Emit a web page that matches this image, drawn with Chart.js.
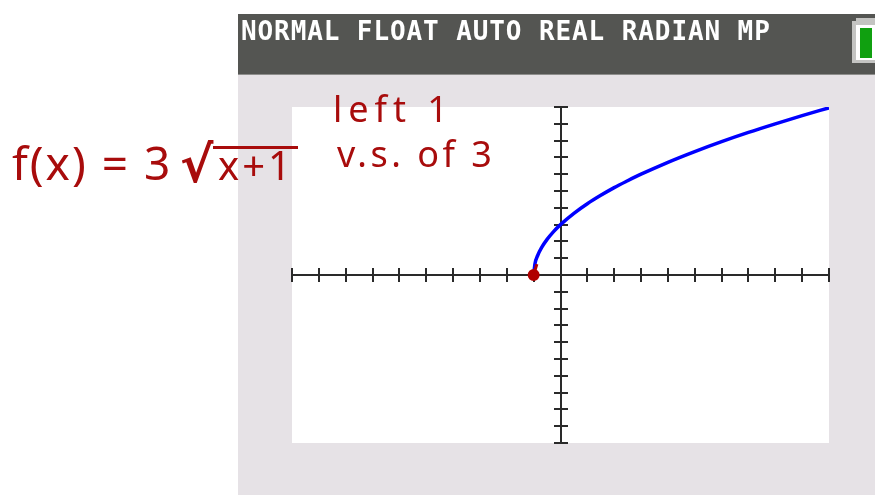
<!DOCTYPE html>
<html>
<head>
<meta charset="utf-8">
<script src="https://cdn.jsdelivr.net/npm/chart.js@4"></script>
<style>
  html, body { margin: 0; padding: 0; background: #fff; }
  #wrap { position: relative; width: 875px; height: 495px; overflow: hidden; }
  #graph { position: absolute; left: 0; top: 0; }
  .status { position: absolute; left: 241px; top: 16px; color: #fff;
            font: bold 26px "DejaVu Sans Mono", monospace; letter-spacing: 0.9px; white-space: pre; }
  .ink { position: absolute; color: #a80c0c; font-family: "Noto Sans", sans-serif; white-space: pre; }
  .root { border-top: 3px solid #a80c0c; line-height: 0.8; padding-left: 5px; padding-right: 4px; }
</style>
</head>
<body>
<div id="wrap">
  <canvas id="graph" width="875" height="495"></canvas>
  <div class="status">NORMAL FLOAT AUTO REAL RADIAN MP</div>
  <div class="ink" style="left:12px; top:131px; font-size:46px; letter-spacing:2px;">f(x) = 3</div>
  <div class="ink" style="left:180px; top:140px; font-size:50px; line-height:1; font-family:'DejaVu Sans'; font-weight:bold;">√</div>
  <div class="ink root" style="left:213px; top:146px; font-size:40px; letter-spacing:3px;">x+1</div>
  <div class="ink" style="left:333px; top:84px; font-size:36px; letter-spacing:6px;">left 1</div>
  <div class="ink" style="left:337px; top:129px; font-size:36px; letter-spacing:3.5px;">v.s. of 3</div>
</div>
<script>
// f(x) = 3*sqrt(x+1)
var xVals = [-1, -0.95, -0.85, -0.7, -0.5, -0.25, 0, 0.5, 1, 1.5, 2, 2.5, 3, 4, 5, 6, 7, 8, 9, 10];
var yVals = [0, 0.67, 1.16, 1.64, 2.12, 2.6, 3.0, 3.67, 4.24, 4.74, 5.2, 5.61, 6.0, 6.71, 7.35, 7.94, 8.49, 9.0, 9.49, 9.95];
// red pen mark at the starting point
var markX = [-1, -0.88];
var markY = [0, 0.65];
// window ticks (Xscl = Yscl = 1)
var tickVals = [-10, -9, -8, -7, -6, -5, -4, -3, -2, -1, 0, 1, 2, 3, 4, 5, 6, 7, 8, 9, 10];

function toPoints(xs, ys) {
    return xs.map(function (x, i) { return { x: x, y: ys[i] }; });
}

var screenBg = {
    id: 'screenBg',
    beforeDraw: function (chart) {
        var ctx = chart.ctx, a = chart.chartArea;
        ctx.save();
        ctx.fillStyle = '#ffffff';
        ctx.fillRect(0, 0, 875, 495);
        ctx.fillStyle = '#545552';
        ctx.fillRect(238, 14, 637, 60);
        ctx.fillStyle = '#8e8e8c';
        ctx.fillRect(238, 74, 637, 1);
        ctx.fillStyle = '#e6e2e6';
        ctx.fillRect(238, 75, 637, 420);
        ctx.fillStyle = '#ffffff';
        ctx.fillRect(a.left, a.top, a.right - a.left, a.bottom - a.top);
        // battery
        ctx.fillStyle = '#c4c4c2';
        ctx.fillRect(856, 18, 19, 4);
        ctx.fillRect(852, 21, 23, 42);
        ctx.fillStyle = '#ffffff';
        ctx.fillRect(856, 25, 19, 35);
        ctx.fillStyle = '#10a010';
        ctx.fillRect(860, 28, 12, 30);
        ctx.restore();
    },
    beforeDatasetsDraw: function (chart) {
        var ctx = chart.ctx, a = chart.chartArea;
        var sx = chart.scales.x, sy = chart.scales.y;
        var x0 = Math.round(sx.getPixelForValue(0)), y0 = Math.round(sy.getPixelForValue(0));
        ctx.save();
        ctx.strokeStyle = '#2a2a2a';
        ctx.lineWidth = 2;
        ctx.beginPath();
        ctx.moveTo(a.left, y0); ctx.lineTo(a.right, y0);
        ctx.moveTo(x0, a.top); ctx.lineTo(x0, a.bottom);
        tickVals.forEach(function (v) {
            var px = Math.round(sx.getPixelForValue(v));
            var py = Math.round(sy.getPixelForValue(v));
            ctx.moveTo(px, y0 - 7); ctx.lineTo(px, y0 + 7);
            ctx.moveTo(x0 - 7, py); ctx.lineTo(x0 + 7, py);
        });
        ctx.stroke();
        ctx.restore();
    }
};

new Chart(document.getElementById('graph'), {
    type: 'scatter',
    data: {
        datasets: [{
            label: 'pen',
            data: toPoints(markX, markY),
            showLine: true,
            borderColor: '#b00000',
            backgroundColor: '#b00000',
            borderWidth: 3,
            pointRadius: [4.5, 0],
            order: 0
        }, {
            label: 'Y1',
            data: toPoints(xVals, yVals),
            showLine: true,
            borderColor: '#0000ff',
            borderWidth: 3.5,
            pointRadius: 0,
            cubicInterpolationMode: 'monotone',
            order: 1
        }]
    },
    plugins: [screenBg],
    options: {
        responsive: false,
        animation: false,
        layout: { padding: { left: 292, right: 46, top: 107, bottom: 52 } },
        plugins: { legend: { display: false }, tooltip: { enabled: false } },
        scales: {
            x: { type: 'linear', min: -10, max: 10, display: false },
            y: { type: 'linear', min: -10, max: 10, display: false }
        }
    }
});
</script>
</body>
</html>
